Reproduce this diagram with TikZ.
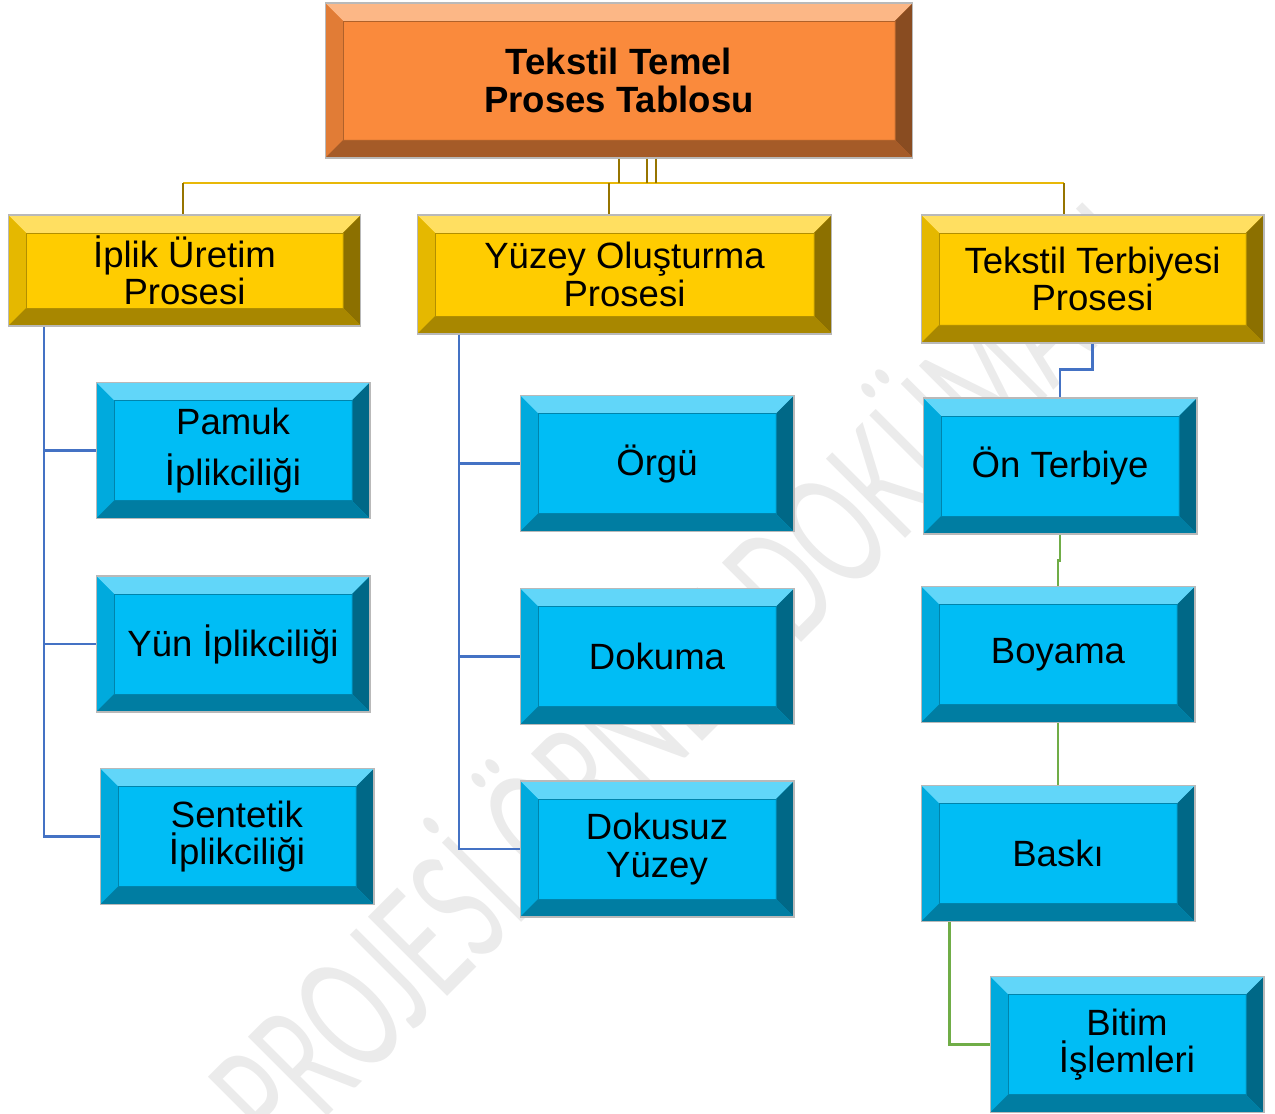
\documentclass[tikz,border=0pt]{standalone}
\usepackage{fontspec}
\setmainfont{Liberation Sans}
\newfontfamily\wmfont[FakeStretch=0.6]{Lato}
\usetikzlibrary{positioning}

\definecolor{boxorange}{RGB}{250,138,60}
\definecolor{boxyellow}{RGB}{255,204,0}
\definecolor{boxblue}{RGB}{0,189,245}
\definecolor{linkblue}{RGB}{68,114,196}
\definecolor{linkgreen}{RGB}{112,173,71}
\definecolor{linkgold}{RGB}{232,184,8}
\definecolor{linkdark}{RGB}{150,116,0}
\definecolor{wmgray}{RGB}{235,235,235}

\def\bevw{0.36cm}

\tikzset{
  bevel/.style={draw=gray!55, line width=0.6pt, fill=#1, inner sep=0pt, align=center,
    font=\fontsize{20.8}{21.3}\selectfont,
    path picture={
      \coordinate (pnw) at (path picture bounding box.north west);
      \coordinate (pne) at (path picture bounding box.north east);
      \coordinate (psw) at (path picture bounding box.south west);
      \coordinate (pse) at (path picture bounding box.south east);
      \fill[#1!62!white] (pnw) -- (pne) -- ([xshift=-\bevw,yshift=-\bevw]pne) -- ([xshift=\bevw,yshift=-\bevw]pnw) -- cycle; %sopra
      \fill[#1!90!black] (pnw) -- (psw) -- ([xshift=\bevw,yshift=\bevw]psw) -- ([xshift=\bevw,yshift=-\bevw]pnw) -- cycle; %sinistra
      \fill[#1!55!black] (pne) -- (pse) -- ([xshift=-\bevw,yshift=\bevw]pse) -- ([xshift=-\bevw,yshift=-\bevw]pne) -- cycle; %destra
      \fill[#1!66!black] (psw) -- (pse) -- ([xshift=-\bevw,yshift=\bevw]pse) -- ([xshift=\bevw,yshift=\bevw]psw) -- cycle; %sotto
      \draw[#1!70!black, line width=0.5pt] ([xshift=\bevw,yshift=-\bevw]pnw) rectangle ([xshift=-\bevw,yshift=\bevw]pse);
    }},
  titlebox/.style={bevel=boxorange, minimum width=11.76cm, minimum height=3.1cm},
  phasebox/.style={bevel=boxyellow},
  taskbox/.style={bevel=boxblue, minimum width=5.48cm, minimum height=2.72cm},
  busline/.style={draw=linkgold, line width=1.6pt},
  dropline/.style={draw=linkdark, line width=1.3pt},
  blueline/.style={draw=linkblue, line width=1.3pt},
  greenline/.style={draw=linkgreen, line width=1.3pt},
  wmark/.style={text=wmgray, rotate=45, inner sep=0pt, font=\wmfont\fontsize{89}{89}\selectfont}
}

\begin{document}
\begin{tikzpicture}[x=0.02cm, y=-0.02cm]
\useasboundingbox (0,0) rectangle (1275,1113);

\node[wmark] (wm) at (675,670) {PROJESİ ÖRNEK DOKÜMANI}; %filigrana

\node[titlebox] (title) at (619,80.5) {\bfseries Tekstil Temel\\\bfseries Proses Tablosu};

\node[phasebox, minimum width=7.06cm, minimum height=2.22cm] (iplik) at (184.5,270.5) {İplik Üretim\\Prosesi};
\node[phasebox, minimum width=8.3cm, minimum height=2.38cm] (yuzey) at (624.5,274.5) {Yüzey Oluşturma\\Prosesi};
\node[phasebox, minimum width=6.86cm, minimum height=2.56cm] (terb) at (1092.5,279) {Tekstil Terbiyesi\\Prosesi};

\node[taskbox] (pamuk) at (233,450.5) {Pamuk\\[8pt]İplikciliği};
\node[taskbox] (yun) at (233,644) {Yün İplikciliği};
\node[taskbox] (sentetik) at (237,836.5) {Sentetik\\İplikciliği};

\node[taskbox] (orgu) at (657,463.5) {Örgü};
\node[taskbox] (dokuma) at (657,656.5) {Dokuma};
\node[taskbox] (dokusuz) at (657,849) {Dokusuz\\Yüzey};

\node[taskbox] (onterb) at (1060,466) {Ön Terbiye};
\node[taskbox] (boyama) at (1058,654.5) {Boyama};
\node[taskbox] (baski) at (1058,853.5) {Baskı};
\node[taskbox] (bitim) at (1127,1044.5) {Bitim\\İşlemleri};

% collegamenti
\coordinate (bus) at (619,183);
\coordinate (busL) at (183,183);
\coordinate (busM) at (609,183);
\coordinate (busR) at (1064,183);
\draw[busline] (busL) -- (busR);
\draw[dropline] (title.south) -- (bus);
\draw[dropline] ([xshift=0.56cm]title.south) -- ([xshift=0.56cm]bus);
\draw[dropline] ([xshift=0.74cm]title.south) -- ([xshift=0.74cm]bus);
\draw[dropline] (busL) -- (busL |- iplik.north);
\draw[dropline] (busM) -- (busM |- yuzey.north);
\draw[dropline] (busR) -- (busR |- terb.north);

\coordinate (spine1) at (44,326);
\draw[blueline] (iplik.south -| spine1) -- (spine1 |- sentetik.west) -- (sentetik.west);
\draw[blueline] (spine1 |- pamuk.west) -- (pamuk.west);
\draw[blueline] (spine1 |- yun.west) -- (yun.west);

\coordinate (spine2) at (459,334);
\draw[blueline] (yuzey.south -| spine2) -- (spine2 |- dokusuz.west) -- (dokusuz.west);
\draw[blueline] (spine2 |- orgu.west) -- (orgu.west);
\draw[blueline] (spine2 |- dokuma.west) -- (dokuma.west);

\draw[blueline] (terb.south) -- ++(0,26) -| (onterb.north);
\draw[greenline] (onterb.south) -- ++(0,26) -| (boyama.north);
\draw[greenline] (boyama.south) -- (baski.north);
\draw[greenline] ([xshift=0.58cm]baski.south west) |- (bitim.west);

\end{tikzpicture}
\end{document}
